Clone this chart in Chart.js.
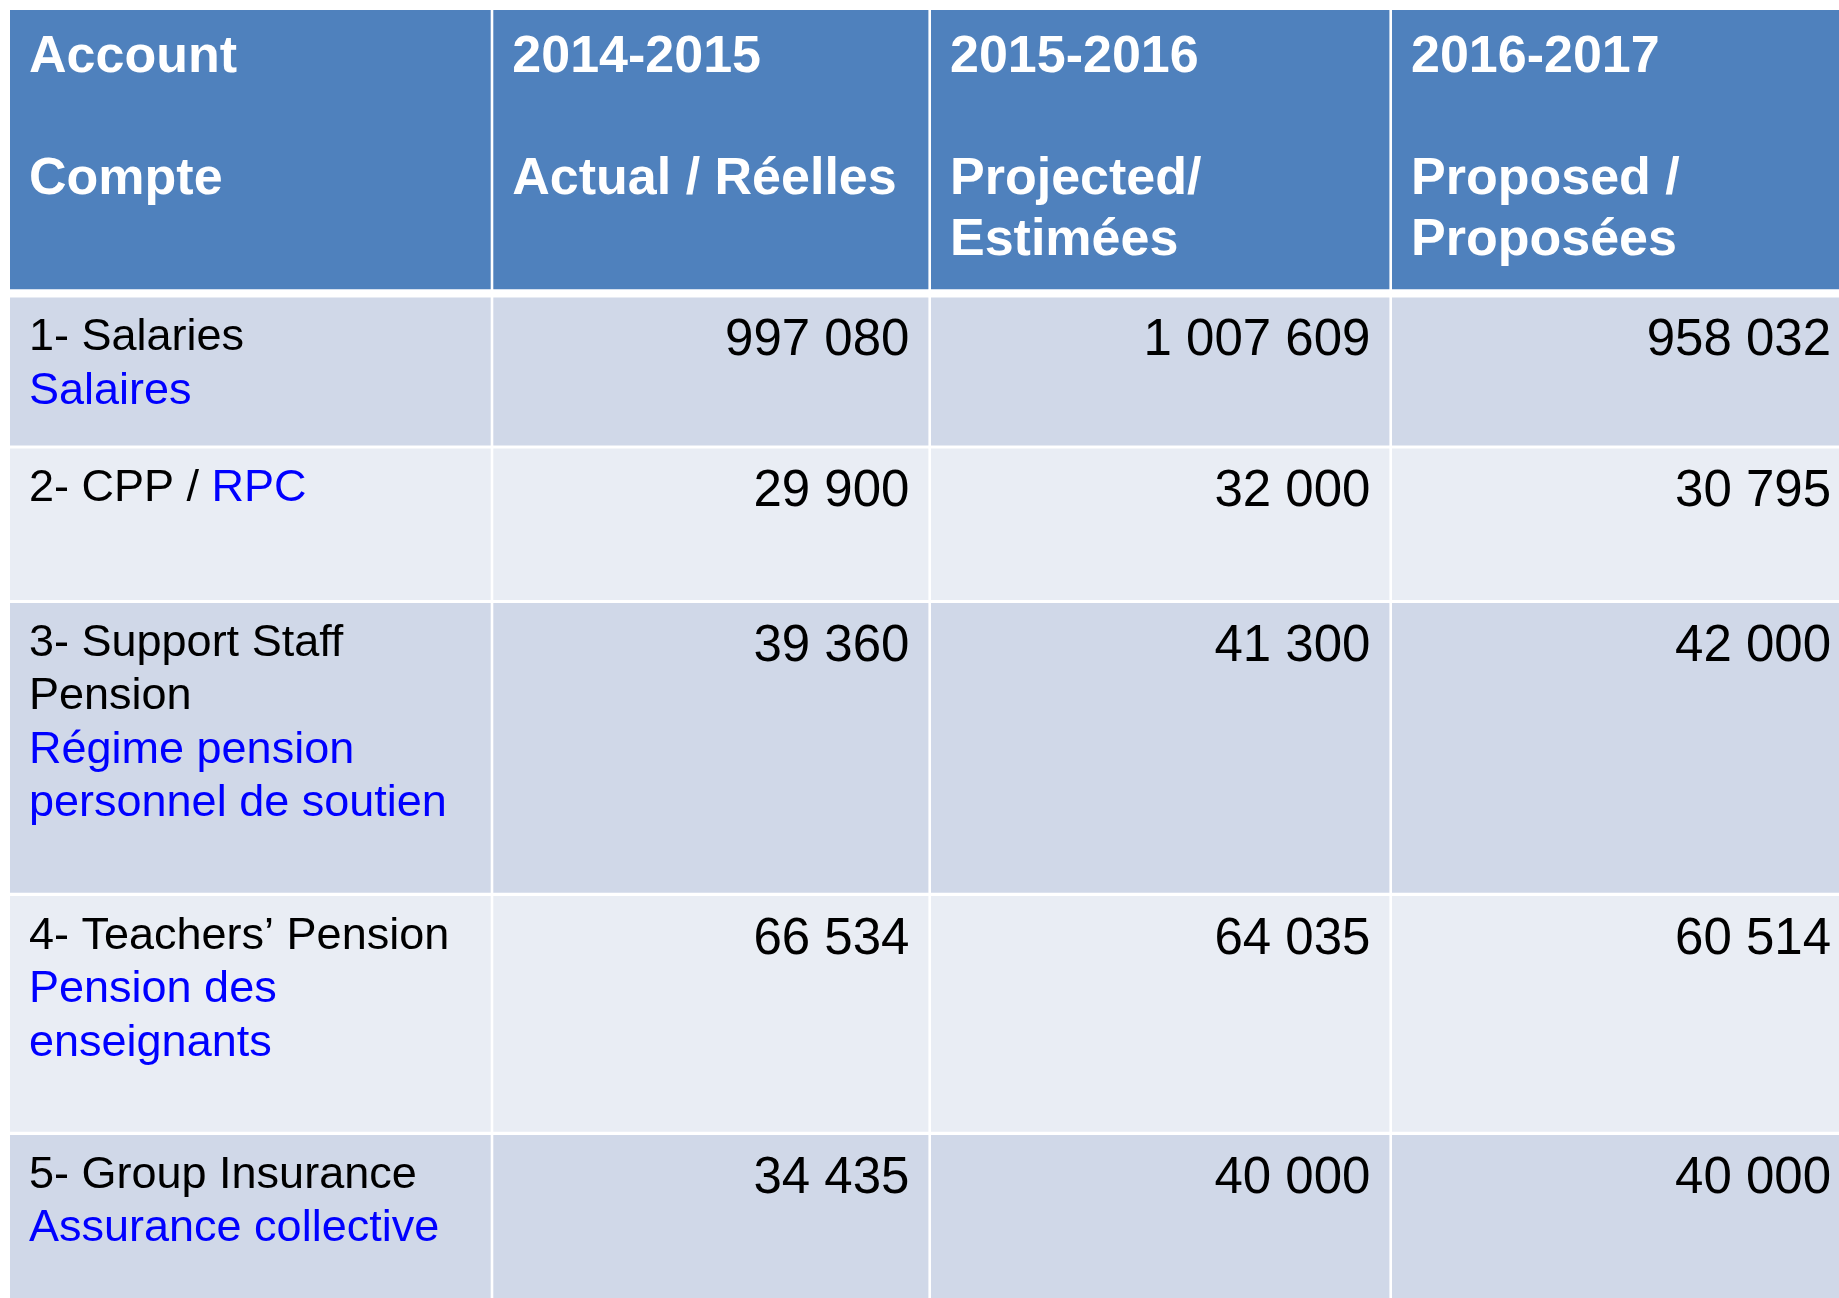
<!DOCTYPE html>
<html>
<head>
<meta charset="utf-8">
<title>Account budget</title>
<script src="https://cdn.jsdelivr.net/npm/chart.js@4.4.1/dist/chart.umd.min.js"></script>
<style>
    html, body { margin: 0; padding: 0; background: #ffffff; overflow: hidden; }
    canvas { display: block; }
</style>
</head>
<body>
<canvas id="budgetTable" width="1839" height="1298"></canvas>
<script>
// ===============================
//  DATA
// ===============================
const headerFirst = ['Account', '2014-2015', '2015-2016', '2016-2017'];
const headerSecond = [['Compte'], ['Actual / Réelles'], ['Projected/', 'Estimées'], ['Proposed /', 'Proposées']];

const accountEn = [['1- Salaries'], ['2- CPP / '], ['3- Support Staff', 'Pension'], ['4- Teachers’ Pension'], ['5- Group Insurance']];
const accountFr = [['Salaires'], ['RPC'], ['Régime pension', 'personnel de soutien'], ['Pension des', 'enseignants'], ['Assurance collective']];
const frInline = [false, true, false, false, false];

const actual = [997080, 29900, 39360, 66534, 34435];
const projected = [1007609, 32000, 41300, 64035, 40000];
const proposed = [958032, 30795, 42000, 60514, 40000];

// ===============================
//  LAYOUT (canvas units)
// ===============================
const colLeft = [10, 493.3, 931, 1392];
const colRight = [490.7, 928.4, 1389.4, 1850];
const rowTop = [10, 297.5, 448.5, 603, 896, 1135];
const rowBottom = [289.3, 445.5, 600, 892.7, 1131.7, 1420];
const rowFill = ['#4F81BD', '#D0D8E8', '#E9EDF4', '#D0D8E8', '#E9EDF4', '#D0D8E8'];

const PAD = 19;
const HEAD_BASE = 71.5, HEAD_LH = 61;
const LABEL_BASE = 52.5, LABEL_LH = 53.5, NUM_BASE = 57.5;

const FONT = '"Liberation Sans", Arial, sans-serif';

function fmt(v) {
    return String(v).replace(/\B(?=(\d{3})+(?!\d))/g, ' ');
}

// ===============================
//  TEXT PLUGIN
// ===============================
const cellText = {
    id: 'cellText',
    afterDatasetsDraw(chart) {
        const { ctx, scales: { x, y } } = chart;
        ctx.save();
        ctx.textBaseline = 'alphabetic';

        // header
        ctx.fillStyle = '#ffffff';
        ctx.font = 'bold 52px ' + FONT;
        ctx.textAlign = 'left';
        headerFirst.forEach((txt, c) => {
            const px = x.getPixelForValue(colLeft[c] + PAD);
            ctx.fillText(txt, px, y.getPixelForValue(rowTop[0] + HEAD_BASE - 10));
            headerSecond[c].forEach((line, k) => {
                ctx.fillText(line, px, y.getPixelForValue(rowTop[0] + HEAD_BASE - 10 + HEAD_LH * (2 + k)));
            });
        });

        // account labels
        ctx.font = '45px ' + FONT;
        accountEn.forEach((lines, r) => {
            const top = rowTop[r + 1];
            const px = x.getPixelForValue(colLeft[0] + PAD);
            let k = 0;
            ctx.fillStyle = '#000000';
            lines.forEach((line) => {
                ctx.fillText(line, px, y.getPixelForValue(top + LABEL_BASE + LABEL_LH * k));
                k++;
            });
            ctx.fillStyle = '#0000FF';
            if (frInline[r]) {
                const w = ctx.measureText(lines[lines.length - 1]).width;
                ctx.fillText(accountFr[r][0], px + w, y.getPixelForValue(top + LABEL_BASE + LABEL_LH * (k - 1)));
            } else {
                accountFr[r].forEach((line) => {
                    ctx.fillText(line, px, y.getPixelForValue(top + LABEL_BASE + LABEL_LH * k));
                    k++;
                });
            }
        });

        // amounts
        ctx.fillStyle = '#000000';
        ctx.font = '51px ' + FONT;
        ctx.textAlign = 'right';
        [actual, projected, proposed].forEach((series, s) => {
            const c = s + 1;
            series.forEach((v, r) => {
                ctx.fillText(fmt(v), x.getPixelForValue(colRight[c] - PAD), y.getPixelForValue(rowTop[r + 1] + NUM_BASE));
            });
        });

        ctx.restore();
    }
};

// ===============================
//  CELLS (floating bars, one dataset per column)
// ===============================
function buildDatasets() {
    return colLeft.map((l, c) => ({
        label: 'col' + c,
        data: rowTop.map((t, r) => ({ x: (l + colRight[c]) / 2, y: [t, rowBottom[r]] })),
        backgroundColor: rowFill,
        borderWidth: 0,
        inflateAmount: 0,
        barThickness: colRight[c] - l,
        stack: 'cells'
    }));
}

document.addEventListener('DOMContentLoaded', () => {
    new Chart(document.getElementById('budgetTable'), {
        type: 'bar',
        data: { datasets: buildDatasets() },
        options: {
            responsive: false,
            animation: false,
            events: [],
            layout: { padding: 0 },
            plugins: { legend: { display: false }, tooltip: { enabled: false } },
            scales: {
                x: { type: 'linear', min: 0, max: 1839, offset: false, stacked: true, display: false },
                y: { type: 'linear', min: 0, max: 1298, reverse: true, stacked: false, display: false }
            }
        },
        plugins: [cellText]
    });
});
</script>
</body>
</html>
